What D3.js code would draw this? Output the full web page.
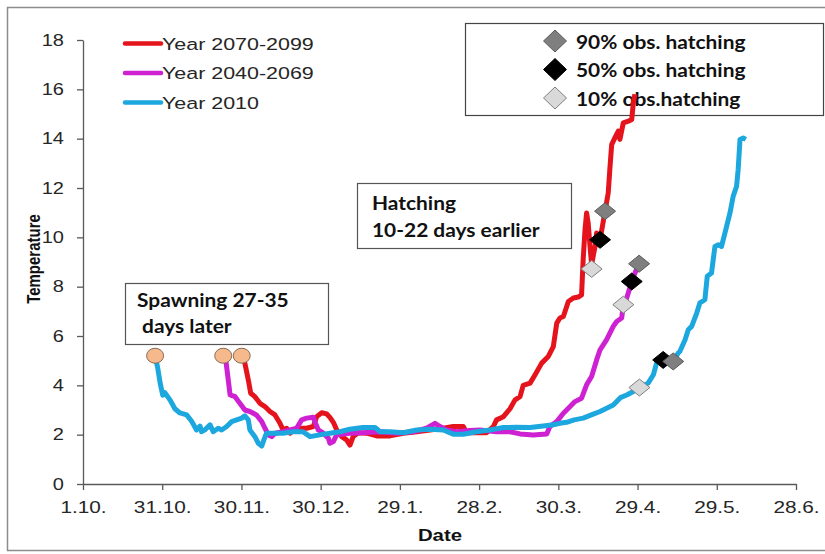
<!DOCTYPE html>
<html>
<head>
<meta charset="utf-8">
<script src="https://cdn.jsdelivr.net/npm/d3@7"></script>
<style>
  body { margin: 0; background: #fff; }
  svg { display: block; }
  .tick text { font-family: "Liberation Sans", Arial, sans-serif; font-size: 16px; fill: #262626; }
  .note { font-family: Lato, "Open Sans", sans-serif; font-weight: bold; fill: #111; }
</style>
</head>
<body>
<svg id="chart" width="825" height="554"></svg>
<script>
// days counted from 1 October
var tickDays = [0, 30, 60, 90, 120, 150, 180, 210, 240, 270];
var tickLabels = ["1.10.", "31.10.", "30.11.", "30.12.", "29.1.", "28.2.", "30.3.", "29.4.", "29.5.", "28.6."];
var yTicks = [0, 2, 4, 6, 8, 10, 12, 14, 16, 18];

var seriesNames = ["Year 2070-2099", "Year 2040-2069", "Year 2010"];

var year2070 = [[60.1,5.2],[61.3,4.9],[62.6,4.22],[63.5,3.68],[65.1,3.54],[67,3.27],[68.9,3.14],[70.8,2.94],[72.7,2.8],
  [74.6,2.46],[75.8,2.19],[77.1,2.26],[78.4,2.06],[79.6,2.19],[82.2,2.26],[84.7,2.26],[87.2,2.33],[88.5,2.73],[90.4,2.89],
  [92.3,2.84],[93.5,2.7],[94.8,2.5],[96.1,2.19],[98,1.92],[99.8,1.79],[101.1,1.58],[102.3,1.92],[104.2,2.08],[107.4,2.06],
  [111.2,1.95],[116.2,1.95],[121.3,2.06],[126.4,2.12],[131.4,2.19],[136.4,2.26],[140.2,2.33],[144,2.33],[145.3,2.08],
  [149.1,2.08],[152.8,2.08],[155.4,2.33],[156.6,2.6],[159.2,2.73],[161.7,3.05],[163.6,3.41],[165.5,3.54],[166.7,4.0],
  [169.3,4.09],[171.2,4.43],[173.7,4.9],[176.2,5.17],[178.1,5.57],[179.4,6.52],[180.6,6.73],[181.9,6.79],[183.8,7.4],
  [185.7,7.54],[187.5,7.58],[188.8,7.67],[189.4,9.09],[190.1,10.31],[190.7,10.99],[191.3,10.58],[192,9.63],[192.6,8.9],
  [193.9,9.63],[194.5,10.18],[195.8,9.9],[197.7,11.06],[198.9,11.8],[199.5,12.75],[200.2,13.76],[201.4,14.03],
  [202.7,14.31],[203.3,13.97],[204.6,14.64],[206.5,14.71],[207.8,14.78],[208.4,15.46],[209,15.8]];

var year2040 = [[53.1,5.2],[54.1,5.0],[55,4.22],[55.7,3.61],[57.6,3.54],[59.4,3.27],[61.3,3.0],[63.2,2.94],[65.7,2.8],
  [67.7,2.53],[68.9,2.26],[70.2,1.99],[71.5,1.92],[72.7,2.06],[75.8,2.12],[78.4,2.19],[80.9,2.26],[82.8,2.6],[84.7,2.67],
  [87.2,2.71],[87.8,2.53],[89.1,2.19],[91,2.06],[92.9,1.86],[93.5,1.65],[94.8,1.72],[96.1,2.0],[101.1,2.06],[106.1,2.08],
  [112.5,2.12],[118.8,2.06],[125.1,2.12],[130.1,2.26],[133.3,2.46],[135.2,2.33],[137.7,2.19],[141.5,2.12],[146.5,2.17],
  [150.3,2.19],[156.6,2.12],[161.7,2.12],[165.5,2.03],[170.5,1.99],[175.6,2.03],[176.8,2.33],[179.4,2.53],[181.9,2.87],
  [183.8,3.07],[186.3,3.34],[188.8,3.48],[190.7,4.02],[192.6,4.36],[194.5,5.03],[195.8,5.44],[198.3,5.85],[200.8,6.39],
  [202.1,6.59],[204,6.73],[204.6,7.27],[205.9,7.54],[207.8,8.21],[209,8.55],[210.6,8.93]];

var year2010 = [[27.3,5.2],[28.3,4.7],[29.2,4.1],[30.2,3.6],[31,3.7],[33,3.4],[34.8,3.05],[36.7,2.88],[39.3,2.8],
  [41.2,2.53],[43,2.19],[44.3,2.35],[44.9,2.12],[46.2,2.2],[48.1,2.4],[49.3,2.12],[51.2,2.26],[52.5,2.19],[54.4,2.33],
  [56.3,2.53],[58.2,2.6],[60.1,2.67],[61.3,2.76],[62.6,2.6],[63.2,2.19],[65.1,1.92],[66.4,1.65],[67.7,1.54],[68.5,1.79],
  [69.5,2.06],[72,2.06],[75.7,2.06],[79.5,2.12],[83.3,2.12],[86,1.92],[89.7,1.99],[93.5,2.06],[97.3,2.12],[101,2.22],
  [106,2.29],[110.6,2.29],[112.5,2.12],[116.2,2.12],[121.3,2.08],[126.4,2.19],[131.4,2.22],[136.4,2.19],[140.2,2.02],
  [144,2.02],[149,2.12],[154.1,2.19],[159.2,2.29],[164.2,2.3],[169.3,2.29],[174.3,2.35],[178.1,2.4],[180.6,2.46],
  [183.1,2.5],[186,2.6],[189.4,2.67],[192.5,2.8],[195.8,2.94],[200.8,3.2],[203.5,3.5],[205.9,3.61],[208.4,3.75],
  [210.7,3.91],[214,4.09],[216,4.43],[217.2,4.9],[219.7,5.03],[223.5,4.97],[225.4,5.31],[226,5.37],[228,5.85],
  [229.2,6.25],[230.5,6.39],[232.4,6.93],[233.6,7.34],[235.5,7.47],[236.4,8.42],[238,8.55],[239.3,9.63],[240.6,9.7],
  [241.8,9.63],[243.1,10.18],[245,10.99],[246.2,11.66],[247.5,12.07],[248.1,12.75],[248.8,13.97],[250,14.03],[251,13.97]];

// spawning start and observed hatching (per series: 2070, 2040, 2010)
var spawnStart = [[27.3,5.2],[53.1,5.2],[60.1,5.2]];
var hatch90 = [[197.7,11.06],[210.6,8.93],[223.5,4.97]];
var hatch50 = [[195.8,9.9],[207.8,8.21],[219.7,5.03]];
var hatch10 = [[192.6,8.72],[204.6,7.27],[210.7,3.91]];
var hatchNames = ["90% obs. hatching", "50% obs. hatching", "10% obs.hatching"];

var colors = ["#E5131B", "#CD21D2", "#1DA7DF"];

var svg = d3.select("#chart");

// outer frame
svg.append("rect")
    .attr("x", 7.5).attr("y", 7.5).attr("width", 840).attr("height", 543)
    .attr("fill", "none").attr("stroke", "#8c8c8c").attr("stroke-width", 1.5);

var xScale = d3.scaleLinear().domain([0, 270]).range([83, 796]);
var yScale = d3.scaleLinear().domain([0, 18]).range([484, 40]);

// the source picture is stretched sideways, so its text is too
var stretch = 1.3;

var xAxis = svg.append("g")
    .attr("transform", "translate(0,484)")
    .call(d3.axisBottom(xScale).tickValues(tickDays)
        .tickFormat(function (d, i) { return tickLabels[i]; })
        .tickSizeOuter(0).tickSizeInner(6).tickPadding(12));
xAxis.selectAll("text").attr("transform", "scale(" + stretch + ",1)");

var yAxis = svg.append("g")
    .attr("transform", "translate(83,0)")
    .call(d3.axisLeft(yScale).tickValues(yTicks).tickSizeOuter(0).tickSizeInner(6).tickPadding(13));
yAxis.selectAll("text").attr("x", 0).attr("transform", "translate(-19,0) scale(1.25,1)");

svg.selectAll(".domain, .tick line").attr("stroke", "#595959").attr("stroke-width", 1.3);

svg.append("text")
    .attr("transform", "translate(40,259) rotate(-90) scale(1,1.2)")
    .attr("text-anchor", "middle")
    .attr("font-family", "'Liberation Sans', Arial, sans-serif")
    .attr("font-weight", "bold").attr("font-size", "15px").attr("fill", "#111")
    .text("Temperature");

svg.append("text")
    .attr("transform", "translate(440,541) scale(1.2,1)")
    .attr("text-anchor", "middle")
    .attr("font-family", "'Liberation Sans', Arial, sans-serif")
    .attr("font-weight", "bold").attr("font-size", "17px").attr("fill", "#111")
    .text("Date");

function noteText(x, y, size, t) {
    return svg.append("text").attr("class", "note")
        .attr("transform", "translate(" + x + "," + y + ") scale(1.1,1)")
        .attr("font-size", size + "px")
        .attr("xml:space", "preserve")
        .text(t);
}

// annotation boxes
function noteBox(x, y, w, h, lines, lx, ly, size, gap) {
    svg.append("rect").attr("x", x).attr("y", y).attr("width", w).attr("height", h)
        .attr("fill", "#fff").attr("stroke", "#555").attr("stroke-width", 1.2);
    lines.forEach(function (t, i) { noteText(lx, ly + i * gap, size, t); });
}
noteBox(357.5, 183.5, 214, 65, ["Hatching", "10-22 days earlier"], 372, 210, 19, 27);
noteBox(125.5, 283.5, 203, 61, ["Spawning 27-35", " days later"], 137, 307, 19, 26);

// diamond legend box
svg.append("rect").attr("x", 465.5).attr("y", 23.5).attr("width", 358).attr("height", 92)
    .attr("fill", "#fff").attr("stroke", "#444").attr("stroke-width", 1.2);

var diamondFill = ["#7f7f7f", "#000000", "#d9d9d9"];
var diamondStroke = ["#5a5a5a", "#000000", "#7f7f7f"];
function diamond(hw, hh) {
    return "M0," + (-hh) + "L" + hw + ",0L0," + hh + "L" + (-hw) + ",0Z";
}
hatchNames.forEach(function (name, i) {
    var yy = 41 + i * 28.5;
    svg.append("path").attr("d", diamond(11.5, 11))
        .attr("transform", "translate(555," + yy + ")")
        .attr("fill", diamondFill[i]).attr("stroke", diamondStroke[i]).attr("stroke-width", 1);
    noteText(576, yy + 7.5, 19, name);
});

// line legend
seriesNames.forEach(function (name, i) {
    var yy = 43.5 + i * 29.5;
    svg.append("line").attr("x1", 125).attr("x2", 161).attr("y1", yy).attr("y2", yy)
        .attr("stroke", colors[i]).attr("stroke-width", 4.5).attr("stroke-linecap", "round");
    svg.append("text")
        .attr("transform", "translate(162," + (yy + 6) + ") scale(" + stretch + ",1)")
        .attr("font-family", "'Liberation Sans', Arial, sans-serif")
        .attr("font-size", "16.5px").attr("fill", "#262626")
        .text(name);
});

// series lines
var line = d3.line()
    .x(function (d) { return xScale(d[0]); })
    .y(function (d) { return yScale(d[1]); });

[year2070, year2040, year2010].forEach(function (data, i) {
    svg.append("path")
        .datum(data)
        .attr("fill", "none")
        .attr("stroke", colors[i])
        .attr("stroke-width", 5)
        .attr("stroke-linejoin", "round")
        .attr("d", line);
});

// spawning circles
svg.selectAll(".spawn")
    .data(spawnStart)
    .enter().append("ellipse")
    .attr("class", "spawn")
    .attr("cx", function (d) { return xScale(d[0]); })
    .attr("cy", function (d) { return yScale(d[1]); })
    .attr("rx", 8.5).attr("ry", 7.5)
    .attr("fill", "#F5B98B").attr("stroke", "#8a6a55").attr("stroke-width", 1);

// hatching diamonds
[hatch10, hatch50, hatch90].forEach(function (set, k) {
    var idx = 2 - k;
    svg.selectAll(".h" + k)
        .data(set)
        .enter().append("path")
        .attr("class", "h" + k)
        .attr("d", diamond(10.5, 8.5))
        .attr("transform", function (d) { return "translate(" + xScale(d[0]) + "," + yScale(d[1]) + ")"; })
        .attr("fill", diamondFill[idx]).attr("stroke", diamondStroke[idx]).attr("stroke-width", 1);
});
</script>
</body>
</html>
